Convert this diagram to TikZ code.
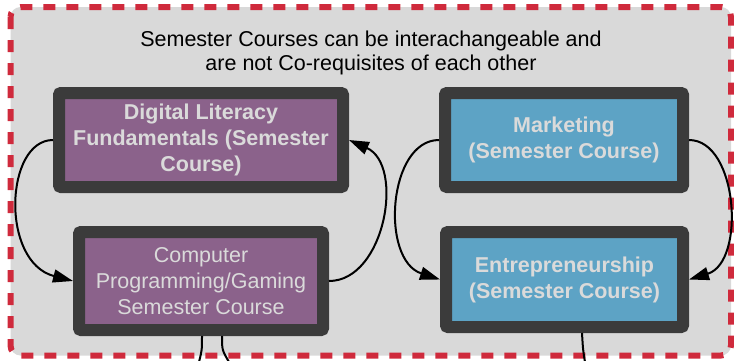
\documentclass[tikz,border=0pt]{standalone}
\usepackage{fontspec}
\setmainfont{Liberation Sans}
\usetikzlibrary{arrows.meta}
\definecolor{framered}{HTML}{CF2A3C}
\definecolor{bggrey}{HTML}{D9D9D9}
\definecolor{borderdark}{HTML}{3B3B3B}
\definecolor{purp}{HTML}{8B628B}
\definecolor{blu}{HTML}{5DA3C5}
\definecolor{txtlight}{HTML}{DADADA}
\begin{document}
\begin{tikzpicture}[x=1pt,y=-1pt,
  course/.style={draw=borderdark, line width=12pt, rounded corners=2pt, align=center,
    text=txtlight, font=\fontsize{21.5}{26}\selectfont, inner sep=0pt},
  boldcourse/.style={course, font=\bfseries\fontsize{21.5}{26}\selectfont},
  link/.style={black, line width=2pt, -{Triangle[length=20pt,width=13pt]}},
  tail/.style={black, line width=2pt}]
\useasboundingbox (0,0) rectangle (734,360);
\clip (0,0) rectangle (734,360);
\draw[framered, line width=6pt, dash pattern=on 12pt off 11pt, fill=bggrey, rounded corners=10pt]
  (10.5,7) rectangle (731,355.5);
\node[align=center, font=\fontsize{21.5}{24}\selectfont] (title) at (371,53)
  {Semester Courses can be interachangeable and\\are not Co-requisites of each other};
\node[boldcourse, fill=purp, minimum width=284pt, minimum height=94pt] (dl) at (201,140)
  {Digital Literacy\\Fundamentals (Semester\\Course)};
\node[course, fill=purp, minimum width=244pt, minimum height=98pt] (cp) at (201,281)
  {Computer\\Programming/Gaming\\Semester Course};
\node[boldcourse, fill=blu, minimum width=238pt, minimum height=94pt] (mk) at (564,140)
  {Marketing\\(Semester Course)};
\node[boldcourse, fill=blu, minimum width=237pt, minimum height=95pt] (en) at (564.5,279.5)
  {Entrepreneurship\\(Semester Course)};
\draw[link] (dl.west) .. controls (5,140) and (0,262) .. (cp.west);
\draw[link] (cp.east) .. controls (385,281) and (405,165) .. (dl.east);
\draw[link] (mk.west) .. controls (388,140) and (380,260) .. (en.west);
\draw[link] (mk.east) .. controls (738,140) and (746,262) .. (en.east);
\coordinate (o1) at (199,362);
\coordinate (o2) at (229,362);
\coordinate (o3) at (585,362);
\draw[tail] ([xshift=1pt]cp.south) .. controls (202,350) .. (o1);
\draw[tail] ([xshift=21pt]cp.south) .. controls (222,350) .. (o2);
\draw[tail] ([xshift=17.5pt]en.south) .. controls (583,350) .. (o3);
\end{tikzpicture}
\end{document}
